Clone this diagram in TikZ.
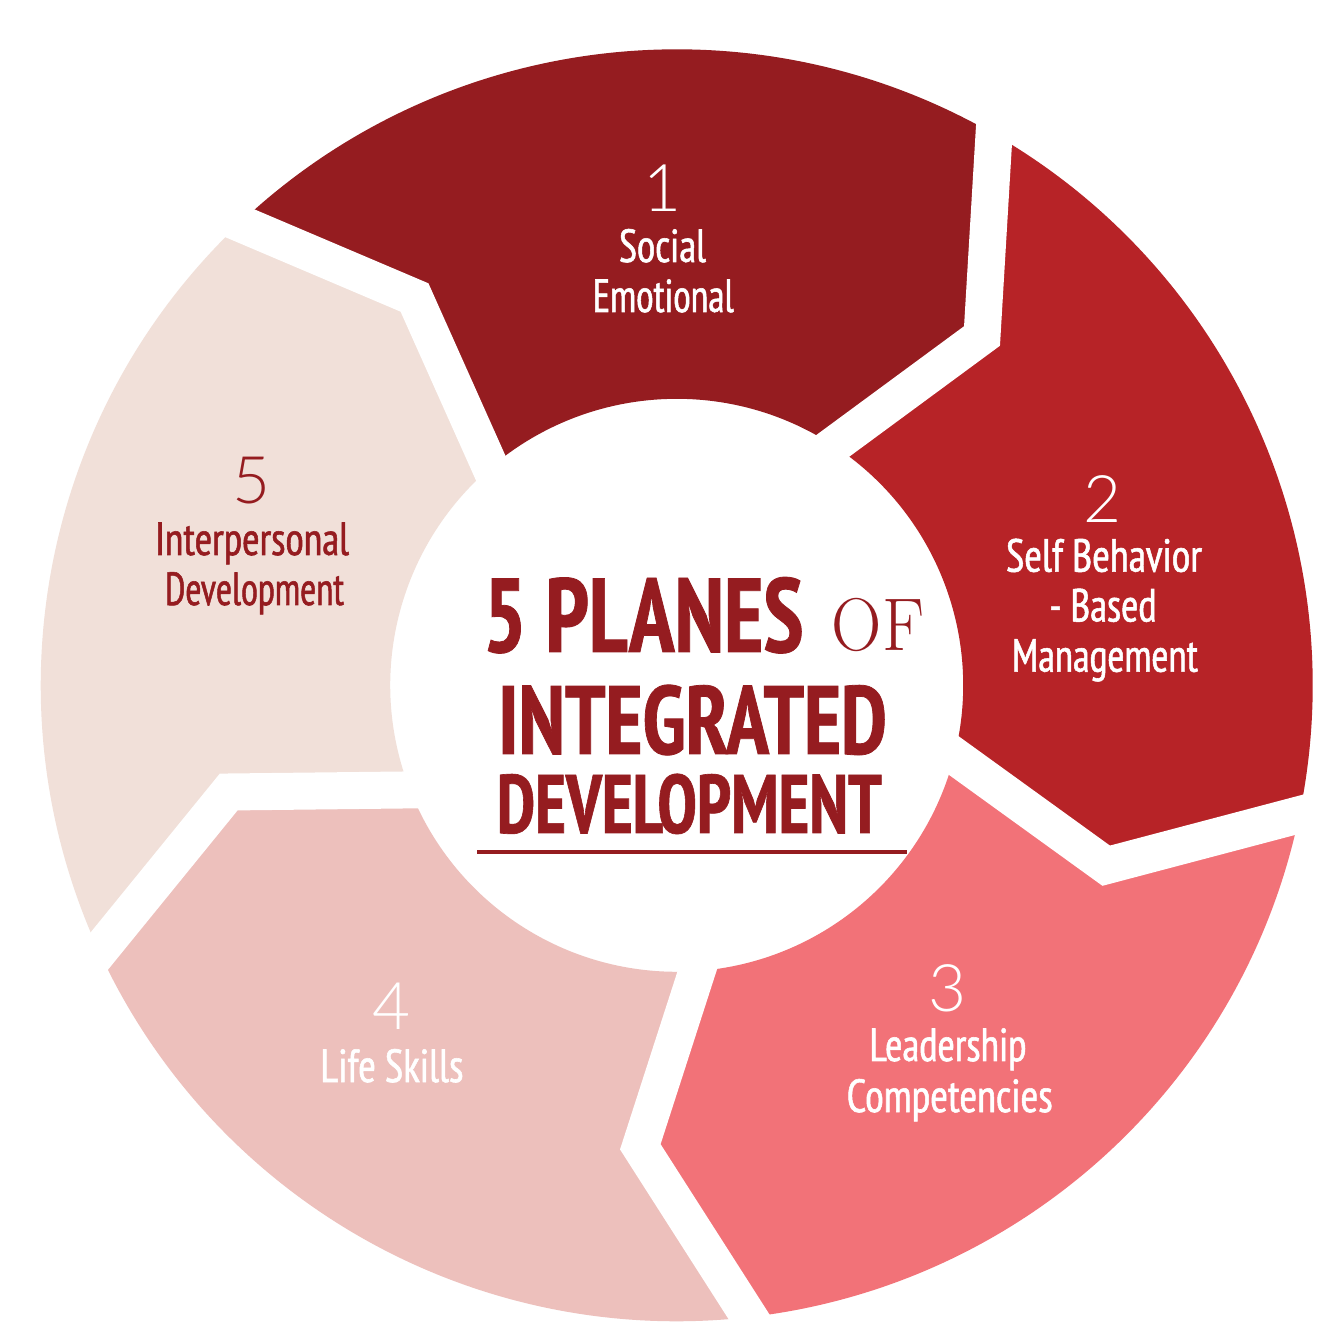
\documentclass[tikz,border=0pt]{standalone}
\usepackage{fontspec}
\usepackage{graphicx}
\usetikzlibrary{calc}
\IfFontExistsTF{PT Sans Narrow}
  {\newfontfamily\labfont{PT Sans Narrow}[FakeBold=1.2]
   \newfontfamily\ttlfont{PT Sans Narrow}[BoldFeatures={FakeBold=0.8}]}
  {\newfontfamily\labfont{Fira Sans}[FakeBold=1.2]
   \newfontfamily\ttlfont{Fira Sans}[BoldFeatures={FakeBold=0.8}]}
\IfFontExistsTF{Lato Light}
  {\newfontfamily\numfont{Lato Light}}
  {\newfontfamily\numfont{Lato}}
\newfontfamily\offont{lmroman17-regular}[Extension=.otf]
\definecolor{deep}{HTML}{951C20}
\definecolor{segb}{HTML}{B72327}
\definecolor{segc}{HTML}{F27278}
\definecolor{segd}{HTML}{EDC0BC}
\definecolor{sege}{HTML}{F1E0D9}
\newcommand\fitto[2]{\resizebox{#1}{\height}{#2}}
\begin{document}
\begin{tikzpicture}[x=1pt,y=1pt,
  gap/.style={draw=white, line width=37pt, line join=miter, line cap=butt, miter limit=20},
  lab/.style={font=\labfont\fontsize{46.4}{50}\selectfont, inner sep=0pt, anchor=base},
  num/.style={font=\numfont\fontsize{65.6}{70}\selectfont, inner sep=0pt, anchor=base},
  ttl/.style={text=deep, inner sep=0pt, anchor=base west}]
\fill[white] (0,0) rectangle (1340,1333);
\useasboundingbox (0,0) rectangle (1340,1333);
\begin{scope}[shift={(676.7,647.7)}]
  \coordinate (Ao) at (60.07:636);   \coordinate (Am) at (305.3,349.3);  \coordinate (Ai) at (56.85:286.5);
  \coordinate (Bo) at (-11.74:636);  \coordinate (Bm) at (429.5,-180.4); \coordinate (Bi) at (-14.28:286.5);
  \coordinate (Co) at (-83.45:636);  \coordinate (Cm) at (-36.4,-461.5); \coordinate (Ci) at (-85.93:286.5);
  \coordinate (Do) at (-155.27:636); \coordinate (Dm) at (-448,-106.7);  \coordinate (Di) at (-158.58:286.5);
  \coordinate (Eo) at (133.4:636);   \coordinate (Em) at (-262.2,387.8); \coordinate (Ei) at (130.54:286.5);
  % segments
  \fill[deep] (Eo) arc[start angle=133.4, end angle=60.07, radius=636] -- (Am) -- (Ai)
     arc[start angle=56.85, end angle=130.54, radius=286.5] -- (Em) -- cycle;
  \fill[segb] (Ao) arc[start angle=60.07, end angle=-11.74, radius=636] -- (Bm) -- (Bi)
     arc[start angle=-14.28, end angle=56.85, radius=286.5] -- (Am) -- cycle;
  \fill[segc] (Bo) arc[start angle=-11.74, end angle=-83.45, radius=636] -- (Cm) -- (Ci)
     arc[start angle=-85.93, end angle=-14.28, radius=286.5] -- (Bm) -- cycle;
  \fill[segd] (Co) arc[start angle=-83.45, end angle=-155.27, radius=636] -- (Dm) -- (Di)
     arc[start angle=-158.58, end angle=-85.93, radius=286.5] -- (Cm) -- cycle;
  \fill[sege] (Do) arc[start angle=-155.27, end angle=-226.6, radius=636] -- (Em) -- (Ei)
     arc[start angle=-229.46, end angle=-158.58, radius=286.5] -- (Dm) -- cycle;
  % gaps
  \foreach \b in {A,B,C,D,E}{
    \draw[gap] ($(\b m)!1.3!(\b o)$) -- (\b m) -- ($(\b m)!1.3!(\b i)$);
  }
\end{scope}
% numbers
\node[num, text=white] (n1) at (663,1121) {1};
\node[num, text=white] (n2) at (1103,810) {2};
\node[num, text=white] (n3) at (948,321) {3};
\node[num, text=white] (n4) at (392,303) {4};
\node[num, text=deep]  (n5) at (252,829) {5};
% labels
\node[lab, text=white] (s1a) at (662.5,1071) {\fitto{87pt}{Social}};
\node[lab, text=white] (s1b) at (663.3,1021) {\fitto{141pt}{Emotional}};
\node[lab, text=white] (s2a) at (1104,761.3) {\fitto{196pt}{Self Behavior}};
\node[lab, text=white] (s2b) at (1103,711.5) {\fitto{107pt}{- Based}};
\node[lab, text=white] (s2c) at (1105,661.3) {\fitto{186pt}{Management}};
\node[lab, text=white] (s3a) at (948,272) {\fitto{157pt}{Leadership}};
\node[lab, text=white] (s3b) at (949.7,221) {\fitto{206pt}{Competencies}};
\node[lab, text=white] (s4a) at (392,251) {\fitto{143pt}{Life Skills}};
\node[lab, text=deep] (s5a) at (252,778) {\fitto{194pt}{Interpersonal}};
\node[lab, text=deep] (s5b) at (254.5,728) {\fitto{179pt}{Development}};
% title
\node[ttl, font=\ttlfont\bfseries\fontsize{105}{110}\selectfont] (t1) at (482.7,681) {\fitto{320.6pt}{5 PLANES}};
\node[ttl, font=\offont\fontsize{74.7}{80}\selectfont] (t2) at (831.7,682) {\fitto{92.3pt}{OF}};
\node[ttl, font=\ttlfont\bfseries\fontsize{97}{100}\selectfont] (t3) at (498,579) {\fitto{388.7pt}{INTEGRATED}};
\node[ttl, font=\ttlfont\bfseries\fontsize{83}{86}\selectfont] (t4) at (496.7,500) {\fitto{385pt}{DEVELOPMENT}};
\coordinate (u1) at (477,481);
\coordinate (u2) at (906.7,481);
\draw[deep, line width=4pt] (u1) -- (u2);
\end{tikzpicture}
\end{document}
